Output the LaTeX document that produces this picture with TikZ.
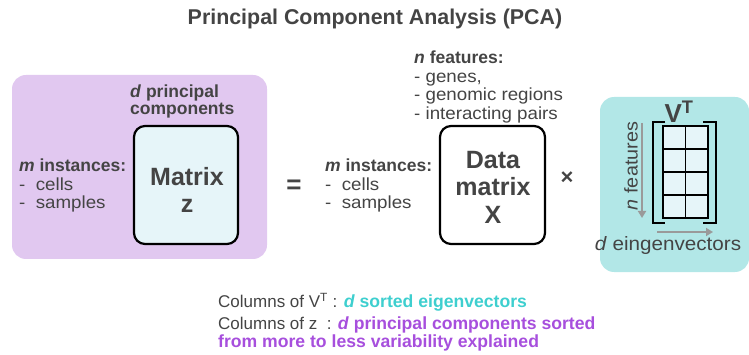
\documentclass[tikz,border=0pt]{standalone}
\usepackage{fontspec}
\setmainfont{Liberation Sans}
\newfontfamily\lblfont{Liberation Sans}[UprightFeatures={FakeStretch=1.07},ItalicFeatures={FakeStretch=1.07}]
\usetikzlibrary{arrows.meta}
\definecolor{txt}{HTML}{444444}
\definecolor{purplebg}{HTML}{E1C8F0}
\definecolor{cyanbg}{HTML}{B2E7E7}
\definecolor{cellfill}{HTML}{E6F5F9}
\definecolor{cyantxt}{HTML}{3ECFCF}
\definecolor{purpletxt}{HTML}{A74FDD}
\definecolor{arrowgray}{HTML}{9A9A9A}
\newcommand\bottombold[1]{{\fontsize{17.6}{18}\selectfont\bfseries #1}}
\tikzset{
  panel/.style={rounded corners=14pt, draw=none},
  matbox/.style={draw=black, line width=2.2pt, rounded corners=11pt, inner sep=0pt},
  label/.style={inner sep=0pt, text=txt, align=left, font=\lblfont\fontsize{17.5}{18.5}\selectfont},
  bigtxt/.style={inner sep=0pt, text=txt, align=center, font=\fontsize{25}{27.5}\selectfont\bfseries},
  grayarrow/.style={draw=arrowgray, line width=2.6pt, -{Triangle[length=7pt,width=8pt]}},
  bracket/.style={draw=black, line width=2.4pt},
  bottomtxt/.style={inner sep=0pt, text=txt, align=left, anchor=west, font=\fontsize{17}{18}\selectfont}
}
\begin{document}
\begin{tikzpicture}[x=1pt,y=-1pt]
\useasboundingbox (0,0) rectangle (749,355);
% title
\node[inner sep=0pt, text=txt, font=\fontsize{21.4}{24}\selectfont\bfseries] (title) at (375,19) {Principal Component Analysis (PCA)};
% left panel
\fill[purplebg, panel] (12,75) rectangle (267,259);
\node[matbox, fill=cellfill, minimum width=104pt, minimum height=118pt] (z) at (186,185) {};
\node[bigtxt] (ztxt) at (187,190) {Matrix\\z};
\node[label, font=\fontsize{17.5}{17}\selectfont\bfseries, anchor=south west] (dpc) at (130,118) {\textit{d} principal\\components};
\node[label, anchor=north west] (minst1) at (19,159) {\textbf{\textit{m} instances:}\\-\ \ cells\\-\ \ samples};
% equals
\node[inner sep=0pt, text=txt, font=\fontsize{26}{26}\selectfont\bfseries] (eq) at (294,187) {=};
% middle
\node[label, anchor=north west] (minst2) at (325,159) {\textbf{\textit{m} instances:}\\-\ \ cells\\-\ \ samples};
\node[matbox, fill=white, minimum width=105pt, minimum height=118pt] (X) at (492.5,185) {};
\node[bigtxt] (Xtxt) at (493,187) {Data\\matrix\\X};
\node[label, anchor=north west] (feat) at (414,51) {\textbf{\textit{n} features:}\\- genes,\\- genomic regions\\- interacting pairs};
\node[inner sep=0pt, text=txt, font=\fontsize{22}{22}\selectfont\bfseries] (times) at (567,178) {×};
% right panel
\fill[cyanbg, panel] (600,97) rectangle (749,272);
\foreach \i in {0,1} {
  \foreach \j in {0,1,2,3} {
    \node[draw=black, line width=1.5pt, fill=cellfill, minimum width=22.5pt, minimum height=23pt, inner sep=0pt] (c\i\j) at (663+11.25+22.5*\i, 126+11.5+23*\j) {};
  }
}
\coordinate (lbt) at (665,122);
\coordinate (lbb) at (665,223);
\draw[bracket] (lbt) -- (653,122) -- (653,223) -- (lbb);
\coordinate (rbt) at (703,122);
\coordinate (rbb) at (703,223);
\draw[bracket] (rbt) -- (716,122) -- (716,223) -- (rbb);
\node[inner sep=0pt, text=txt, font=\fontsize{26}{26}\selectfont\bfseries] (VT) at (679,112) {V\textsuperscript{T}};
\coordinate (va1) at (642,123);
\coordinate (va2) at (642,218);
\draw[grayarrow] (va1) -- (va2);
\node[inner sep=0pt, text=txt, rotate=90, font=\lblfont\fontsize{18.5}{18}\selectfont] (nfeat) at (631,166) {\textit{n} features};
\coordinate (ha1) at (657,232);
\coordinate (ha2) at (713,232);
\draw[grayarrow] (ha1) -- (ha2);
\node[inner sep=0pt, text=txt, font=\lblfont\fontsize{19.3}{18}\selectfont] (deig) at (668,246) {\textit{d} eingenvectors};
% bottom text
\node[bottomtxt] (bottom1) at (218,302)
 {Columns of V\textsuperscript{T} : \textcolor{cyantxt}{\bottombold{\textit{d} sorted eigenvectors}}};
\node[bottomtxt, anchor=north west] (bottom2) at (218,317)
 {Columns of z\ \ : \textcolor{purpletxt}{\bottombold{\textit{d} principal components sorted}}\\
  \textcolor{purpletxt}{\bottombold{from more to less variability explained}}};
\end{tikzpicture}
\end{document}
